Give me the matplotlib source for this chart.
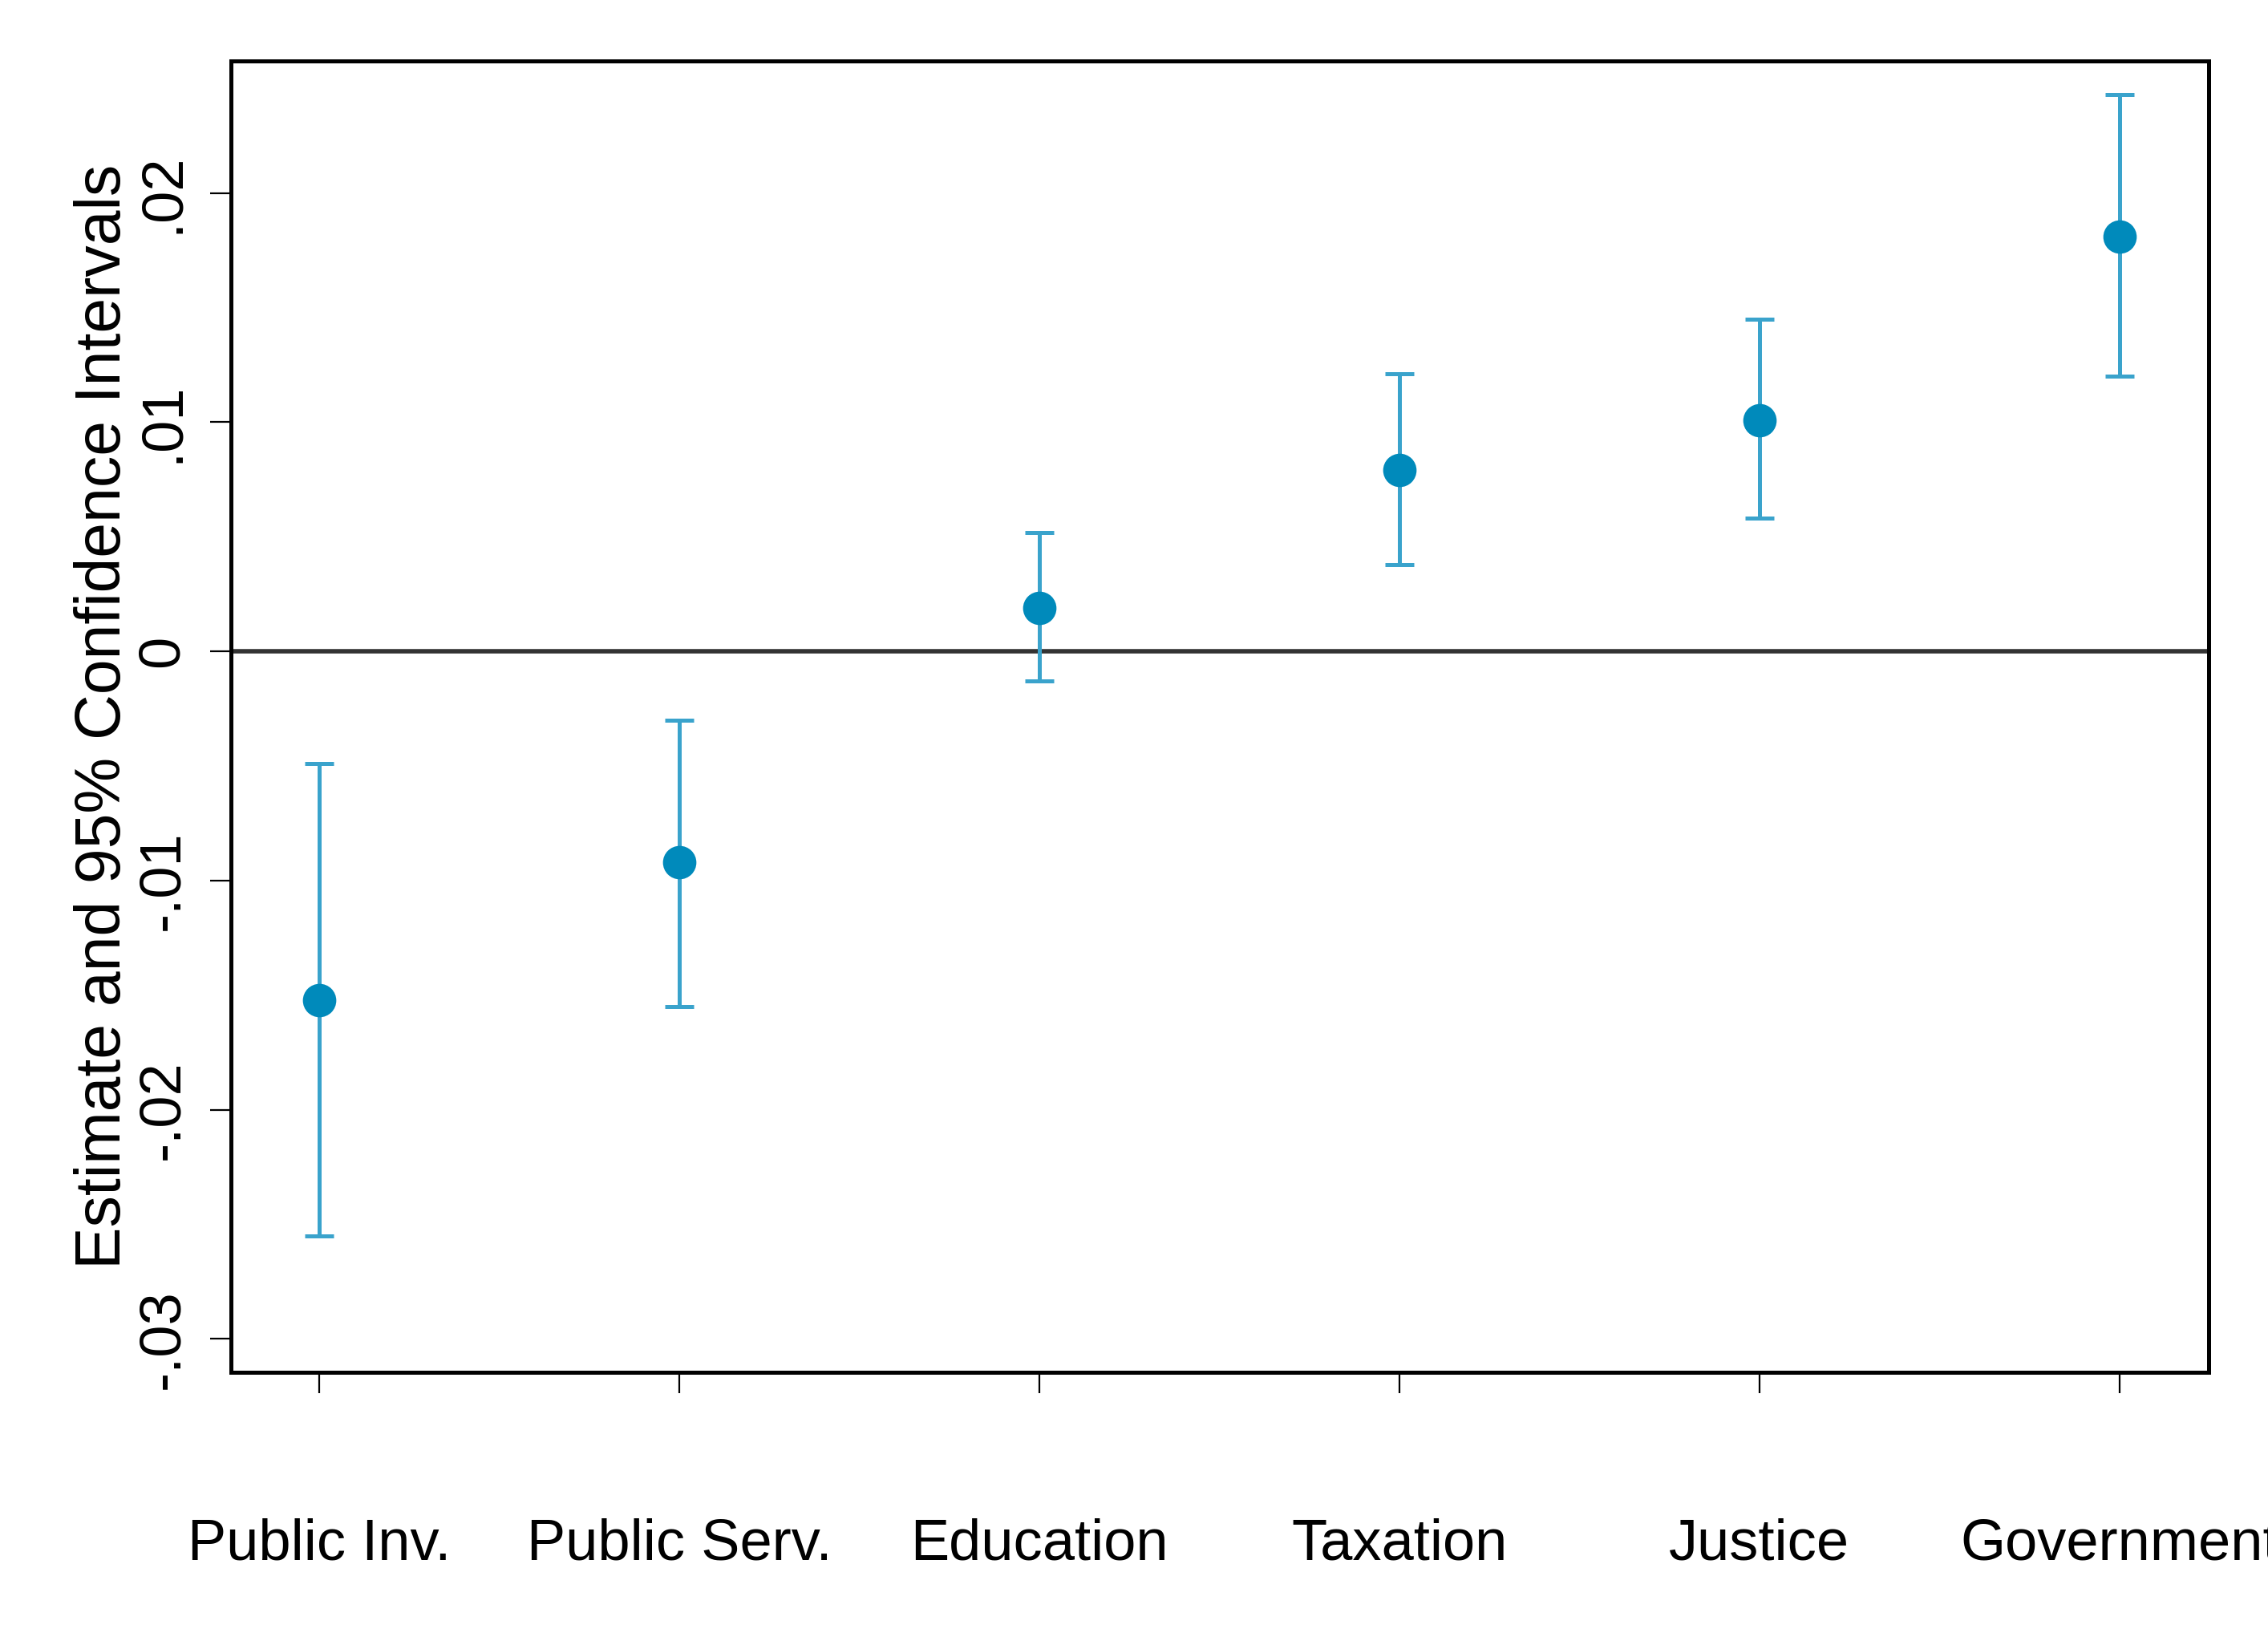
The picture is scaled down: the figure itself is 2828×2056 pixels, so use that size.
import numpy as np
import matplotlib
matplotlib.use("Agg")
import matplotlib.pyplot as plt

plt.rcParams['font.family'] = ['Liberation Sans', 'DejaVu Sans']

# Coefficient estimates and 95% CI bounds
categories = ['Public Inv.', 'Public Serv.', 'Education', 'Taxation', 'Justice', 'Government']
estimate = [-0.0152, -0.0092, 0.0019, 0.0079, 0.0101, 0.0181]
ci_low = [-0.0255, -0.0155, -0.0013, 0.0038, 0.0058, 0.0120]
ci_high = [-0.0049, -0.0030, 0.0052, 0.0121, 0.0145, 0.0243]
yticks = [-0.03, -0.02, -0.01, 0, 0.01, 0.02]
ytick_labels = ['-.03', '-.02', '-.01', '0', '.01', '.02']

x = np.arange(1, len(categories) + 1)
est = np.array(estimate)
lo = est - np.array(ci_low)
hi = np.array(ci_high) - est

fig = plt.figure(figsize=(14.14, 10.28), dpi=200)
ax = fig.add_axes([0.102, 0.168, 0.872, 0.795])

ax.axhline(0, color='#333333', lw=2.0, zorder=1)
ax.errorbar(x, est, yerr=[lo, hi], fmt='none', ecolor='#3aa3cc', elinewidth=1.8,
            capsize=6.6, capthick=1.8, zorder=2)
ax.plot(x, est, 'o', color='#008abb', markersize=14, zorder=3)

ax.set_xlim(0.755, 6.249)
ax.set_ylim(-0.03144, 0.02576)
ax.set_xticks(x)
ax.set_xticklabels(categories)
ax.set_yticks(yticks)
ax.set_yticklabels(ytick_labels, rotation=90, va='center')

ax.tick_params(axis='x', length=9.5, width=0.8, pad=56, labelsize=26)
ax.tick_params(axis='y', length=9.5, width=0.8, pad=9, labelsize=26)
for s in ax.spines.values():
    s.set_linewidth(1.8)

ax.set_ylabel('Estimate and 95% Confidence Intervals', fontsize=28.3, labelpad=1)

fig.savefig('out.png', dpi=200)
